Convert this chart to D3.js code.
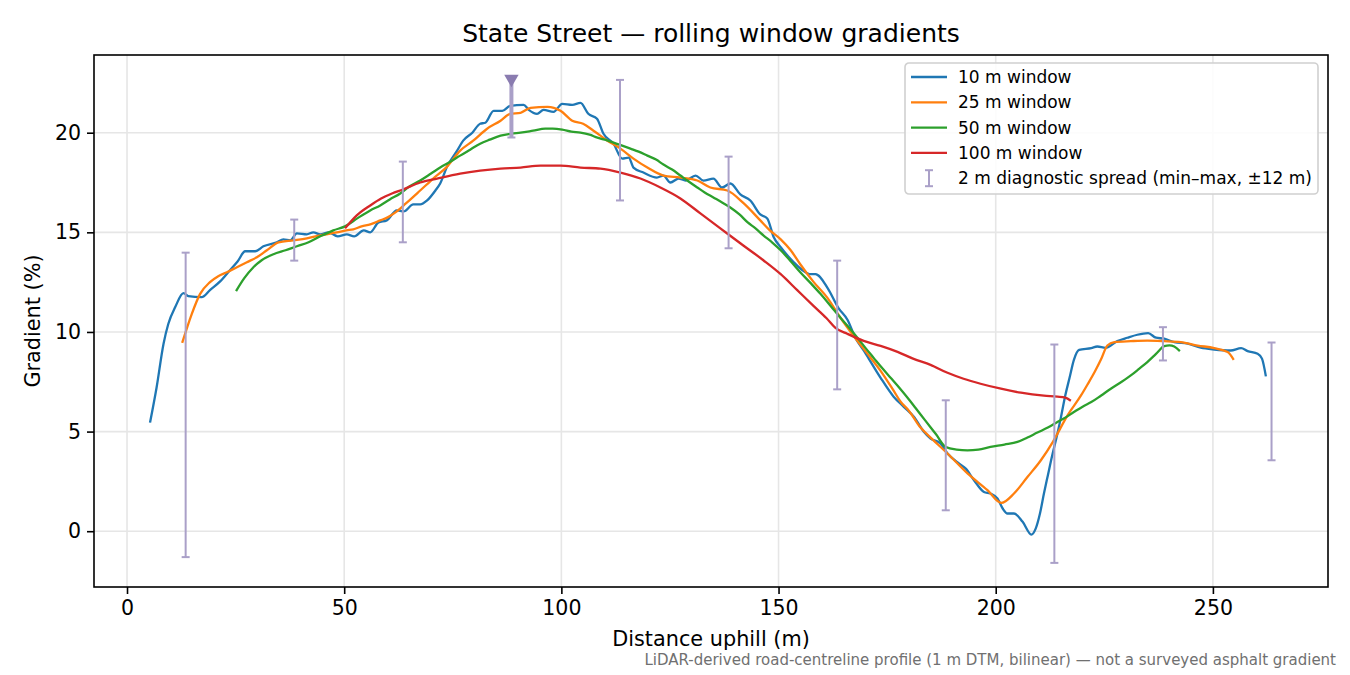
<!DOCTYPE html>
<html lang="en">
<head>
<meta charset="utf-8" />
<title>State Street — rolling window gradients</title>
<script src="https://d3js.org/d3.v7.min.js"></script>
<style>
  html, body { margin: 0; padding: 0; background: #fff; }
  svg { display: block; font-family: "DejaVu Sans", sans-serif; }
</style>
</head>
<body>
<div id="chart"></div>
<script>
// ---- data ----
const w10X = [5.3,6.8,8.4,9.5,11.1,13,14.1,17.2,19.1,21.5,23.7,25.5,27.2,29.5,31.4,34.5,36,37.6,39.1,41.4,42.9,44.5,46.4,48.5,50.6,52.3,54.5,56,57.9,59.8,62.1,63.7,65.9,67.5,69.1,71,72.1,73.7,76,77.4,79.5,81.3,82.5,84.4,86.4,88.2,91.3,92.5,94.4,95.9,98.2,100.2,102.5,104.4,106.2,108.2,109.7,112,114,115.5,116.6,118.9,122,123.5,125.1,127,128.6,130.9,132.7,135,137,138.9,141.2,143.5,145.8,147.4,148.9,150.5,153.5,155.5,157.4,158.5,161.3,163.8,165.9,167.7,169.6,171.5,173.5,176.5,178.9,181.2,183.5,185,187.3,188.9,191.6,193.1,195,197.3,198.8,200.4,201.6,202.7,204.2,206.2,208.2,209.2,210.2,211.1,212,213,214,215,216,217,218,219.2,222,223.4,225.3,228,230.3,232.6,235.1,236.9,238.8,241.1,244.2,247.2,250.3,254.1,256.5,258,260.3,261.3,262.2];
const w10Y = [5.45,7.2,9.4,10.4,11.25,11.95,11.8,11.75,12.1,12.55,13.1,13.55,14.05,14.05,14.3,14.5,14.65,14.6,14.95,14.9,15.0,14.9,15.0,14.8,14.9,14.8,15.1,15.0,15.5,15.6,16.1,16.05,16.4,16.4,16.6,17.1,17.45,18.3,19.1,19.6,20.0,20.45,20.5,21.1,21.1,21.35,21.4,21.15,20.95,21.15,21.05,21.45,21.4,21.5,20.95,20.7,19.95,19.45,18.7,18.75,18.25,18.0,17.75,17.85,17.5,17.7,17.6,17.85,17.6,17.7,17.25,17.45,16.9,16.6,15.9,15.7,14.75,14.25,13.5,13.1,12.9,12.9,12.2,11.2,10.6,9.7,9.07,8.4,7.7,6.75,6.23,5.73,4.98,4.65,4.4,3.9,3.39,3.14,2.56,1.97,1.89,1.64,1.14,0.89,0.89,0.47,-0.17,0.13,0.9,1.89,2.8,3.8,4.7,5.7,6.8,7.7,8.6,9.1,9.19,9.27,9.2,9.54,9.71,9.86,9.94,9.71,9.66,9.49,9.41,9.21,9.12,9.07,9.19,9.04,8.91,8.66,7.77];

const w25X = [12.7,14.9,16.8,19.1,21,23,25.3,27.6,29.9,32.2,34.9,38.3,41.4,44.5,48.3,50.5,52.1,54,56,58.3,60,61.8,64.2,67.5,70.5,73.7,76.7,79.7,82.9,86,88.2,90.6,92.9,96.8,99.8,102.5,105,107.4,110.6,113.6,116.6,119.8,123.5,127.4,131.3,134.3,138.2,142,145.8,148,150.5,152.8,155,158.1,161.3,164.3,167.3,170.5,173.5,176.5,178.1,180,182.7,185.5,188.9,193.5,198.1,201.3,204.2,207.3,210.4,213.2,216.5,219.6,221.1,222.8,224.2,225.7,227.3,231.1,234.9,238.8,242.6,246.5,250.3,253.4,254.8];
const w25Y = [9.45,10.9,11.9,12.5,12.8,13.0,13.25,13.5,13.75,14.1,14.5,14.6,14.7,14.85,15.0,15.1,15.15,15.3,15.4,15.6,15.75,16.0,16.45,17.1,17.7,18.3,19.1,19.6,20.2,20.6,20.95,21.0,21.25,21.3,21.1,20.6,20.45,20.1,19.6,19.2,18.7,18.25,17.85,17.75,17.6,17.25,17.1,16.45,15.6,15.1,14.65,14.1,13.4,12.5,11.7,10.7,9.8,8.9,8.05,7.05,6.5,6.05,5.2,4.6,3.9,2.9,2.06,1.42,1.89,2.72,3.56,4.5,5.8,6.8,7.35,8.0,8.6,9.32,9.49,9.54,9.57,9.54,9.49,9.32,9.19,8.99,8.6];

const w50X = [25.1,27,29.1,31,33.7,36.5,39.1,41.8,44.5,47.5,50.2,53,56,58.3,60.5,62.9,65,67.5,70,72.1,74.5,76.7,79,81.3,83.5,86,88.5,90.6,93.5,96.3,98,100.2,102.3,104.4,106.5,108.3,110,112,114,115.9,117.8,119.8,121.8,123.5,125.5,127.4,129.3,131.3,133,135,137,138.9,141,142.9,144.7,146.5,148.5,150.5,152.8,155,157.4,159.7,162,164.3,166.3,168.2,170,171.9,173.8,175.8,177.8,179.7,181.5,183.8,186.3,188.5,191,193.5,196,198.8,202,205,207.3,209.6,212,214.2,216,218,220,222,224.2,226.5,229,231.1,233,234.9,236.9,238.8,240,241.1,242.4];
const w50Y = [12.05,12.7,13.25,13.6,13.9,14.1,14.3,14.5,14.8,15.1,15.3,15.7,16.1,16.35,16.65,16.95,17.3,17.6,17.95,18.25,18.55,18.85,19.15,19.45,19.65,19.85,19.95,20.0,20.1,20.2,20.2,20.15,20.05,20.0,19.9,19.75,19.65,19.5,19.35,19.2,19.05,18.85,18.65,18.4,18.15,17.85,17.55,17.25,17.0,16.75,16.5,16.25,15.9,15.5,15.2,14.85,14.5,14.1,13.55,13.0,12.45,11.9,11.3,10.7,10.2,9.7,9.2,8.7,8.2,7.7,7.2,6.7,6.2,5.55,4.85,4.23,4.1,4.06,4.1,4.23,4.35,4.48,4.7,4.95,5.2,5.48,5.7,5.98,6.25,6.48,6.8,7.15,7.5,7.82,8.15,8.49,8.9,9.29,9.33,9.27,9.04];

const w100X = [50.2,52.9,56,58.5,61,63.5,67.5,71.4,76.7,81.3,86,90.6,95.2,99.8,104.4,109,113.6,118.2,122.8,127.4,132,136.6,141.2,146.5,150.5,154.3,158.1,161,163.1,165.9,169.6,173.5,177.4,181.1,185,188.9,192.6,196.5,201.2,205.8,211.1,214.2,216,217.3];
const w100Y = [15.2,15.85,16.35,16.7,16.95,17.15,17.5,17.7,17.95,18.1,18.2,18.25,18.35,18.35,18.25,18.2,18.0,17.7,17.25,16.7,15.95,15.2,14.45,13.6,12.9,12.1,11.3,10.7,10.2,9.9,9.55,9.3,9.0,8.65,8.35,7.95,7.65,7.4,7.15,6.95,6.8,6.75,6.7,6.55];

// 2 m diagnostic spread (min–max within ±12 m)
const spreadX  = [13.5, 38.5, 63.5, 88.5, 113.5, 138.5, 163.5, 188.5, 213.5, 238.5, 263.5];
const spreadLo = [-1.3, 13.58, 14.5, 19.76, 16.6, 14.2, 7.12, 1.05, -1.59, 8.57, 3.56];
const spreadHi = [13.98, 15.64, 18.55, 22.7, 22.65, 18.8, 13.58, 6.57, 9.37, 10.24, 9.47];
const spreadClipped = [false, false, false, true, false, false, false, false, false, false, false];

const seriesNames = ['10 m window', '25 m window', '50 m window', '100 m window'];
const seriesColors = ['#1f77b4', '#ff7f0e', '#2ca02c', '#d62728'];
const xTicks = [0, 50, 100, 150, 200, 250];
const yTicks = [0, 5, 10, 15, 20];

const series = [
  { name: seriesNames[0], color: seriesColors[0], pts: w10X.map((x, i) => [x, w10Y[i]]) },
  { name: seriesNames[1], color: seriesColors[1], pts: w25X.map((x, i) => [x, w25Y[i]]) },
  { name: seriesNames[2], color: seriesColors[2], pts: w50X.map((x, i) => [x, w50Y[i]]) },
  { name: seriesNames[3], color: seriesColors[3], pts: w100X.map((x, i) => [x, w100Y[i]]) }
];

// ---- layout ----
const width = 1350, height = 675;
const margin = { top: 55, right: 22, bottom: 88, left: 94 };
const innerW = width - margin.left - margin.right;
const innerH = height - margin.top - margin.bottom;
const spreadColor = '#aaa0c8';

const svg = d3.select('#chart').append('svg')
  .attr('width', width)
  .attr('height', height);

const x = d3.scaleLinear().domain([-7.6, 276.5]).range([0, innerW]);
const y = d3.scaleLinear().domain([-2.8, 23.9]).range([innerH, 0]);

const g = svg.append('g').attr('transform', `translate(${margin.left},${margin.top})`);

g.append('clipPath').attr('id', 'plot-clip')
  .append('rect').attr('width', innerW).attr('height', innerH);

// grid
g.append('g').selectAll('line').data(xTicks).enter().append('line')
  .attr('x1', d => x(d)).attr('x2', d => x(d))
  .attr('y1', 0).attr('y2', innerH)
  .attr('stroke', '#e6e6e6').attr('stroke-width', 1.6);
g.append('g').selectAll('line').data(yTicks).enter().append('line')
  .attr('x1', 0).attr('x2', innerW)
  .attr('y1', d => y(d)).attr('y2', d => y(d))
  .attr('stroke', '#e6e6e6').attr('stroke-width', 1.6);

const plot = g.append('g').attr('clip-path', 'url(#plot-clip)');

// series lines
const line = d3.line()
  .x(d => x(d[0]))
  .y(d => y(d[1]))
  .curve(d3.curveMonotoneX);

plot.selectAll('path.series').data(series).enter().append('path')
  .attr('class', 'series')
  .attr('d', d => line(d.pts))
  .attr('fill', 'none')
  .attr('stroke', d => d.color)
  .attr('stroke-width', 2.3)
  .attr('stroke-linejoin', 'round');

// spread bars
const cap = 4;
const bars = plot.selectAll('g.spread').data(spreadX).enter().append('g').attr('class', 'spread');
bars.append('line')
  .attr('x1', d => x(d)).attr('x2', d => x(d))
  .attr('y1', (d, i) => y(spreadLo[i]))
  .attr('y2', (d, i) => y(spreadHi[i]))
  .attr('stroke', spreadColor)
  .attr('stroke-width', (d, i) => spreadClipped[i] ? 4 : 2);
bars.append('line')
  .attr('x1', d => x(d) - cap).attr('x2', d => x(d) + cap)
  .attr('y1', (d, i) => y(spreadLo[i])).attr('y2', (d, i) => y(spreadLo[i]))
  .attr('stroke', spreadColor).attr('stroke-width', 2);
bars.filter((d, i) => !spreadClipped[i]).append('line')
  .attr('x1', d => x(d) - cap).attr('x2', d => x(d) + cap)
  .attr('y1', d => y(spreadHi[spreadX.indexOf(d)])).attr('y2', d => y(spreadHi[spreadX.indexOf(d)]))
  .attr('stroke', spreadColor).attr('stroke-width', 2);

// clipped maxima get a downward triangle
const tri = d3.symbol().type(d3.symbolTriangle).size(90);
plot.selectAll('path.clipmark')
  .data(spreadX.filter((d, i) => spreadClipped[i]))
  .enter().append('path')
  .attr('class', 'clipmark')
  .attr('d', tri)
  .attr('transform', d => `translate(${x(d)},${y(spreadHi[spreadX.indexOf(d)])}) rotate(180)`)
  .attr('fill', '#8a7cb0');

// axes
const xAxis = d3.axisBottom(x).tickValues(xTicks).tickSize(7).tickPadding(6).tickFormat(d3.format('d'));
const yAxis = d3.axisLeft(y).tickValues(yTicks).tickSize(7).tickPadding(6).tickFormat(d3.format('d'));

const gx = g.append('g').attr('transform', `translate(0,${innerH})`).call(xAxis);
const gy = g.append('g').call(yAxis);
[gx, gy].forEach(a => {
  a.select('.domain').remove();
  a.selectAll('.tick line').attr('stroke', '#000').attr('stroke-width', 1.6);
  a.selectAll('.tick text').attr('fill', '#000').style('font-size', '20.5px')
    .style('font-family', '"DejaVu Sans", sans-serif');
});

g.append('rect')
  .attr('width', innerW).attr('height', innerH)
  .attr('fill', 'none').attr('stroke', '#000').attr('stroke-width', 1.6);

// titles
svg.append('text')
  .attr('x', margin.left + innerW / 2).attr('y', 42)
  .attr('text-anchor', 'middle')
  .style('font-size', '25px')
  .text('State Street — rolling window gradients');

svg.append('text')
  .attr('x', margin.left + innerW / 2).attr('y', 646)
  .attr('text-anchor', 'middle')
  .style('font-size', '20.8px')
  .text('Distance uphill (m)');

svg.append('text')
  .attr('transform', `translate(40,${margin.top + innerH / 2}) rotate(-90)`)
  .attr('text-anchor', 'middle')
  .style('font-size', '20.8px')
  .text('Gradient (%)');

svg.append('text')
  .attr('x', 1336).attr('y', 665)
  .attr('text-anchor', 'end')
  .attr('fill', '#707070')
  .style('font-size', '15px')
  .text('LiDAR-derived road-centreline profile (1 m DTM, bilinear) — not a surveyed asphalt gradient');

// legend
const legend = svg.append('g').attr('transform', 'translate(905,63)');
legend.append('rect')
  .attr('width', 413).attr('height', 131)
  .attr('rx', 4)
  .attr('fill', 'rgba(255,255,255,0.85)')
  .attr('stroke', '#d0d0d0').attr('stroke-width', 1.6);

const rows = legend.selectAll('g.row').data(series).enter().append('g')
  .attr('class', 'row')
  .attr('transform', (d, i) => `translate(0,${14 + i * 25.3})`);
rows.append('line')
  .attr('x1', 6).attr('x2', 42)
  .attr('stroke', d => d.color).attr('stroke-width', 2.3);
rows.append('text')
  .attr('x', 53).attr('dy', '0.35em')
  .style('font-size', '17px')
  .text(d => d.name);

const errRow = legend.append('g').attr('transform', `translate(0,${14 + 4 * 25.3})`);
errRow.append('line').attr('x1', 24).attr('x2', 24).attr('y1', -8).attr('y2', 8)
  .attr('stroke', spreadColor).attr('stroke-width', 2);
[-8, 8].forEach(v => errRow.append('line')
  .attr('x1', 20).attr('x2', 28).attr('y1', v).attr('y2', v)
  .attr('stroke', spreadColor).attr('stroke-width', 2));
errRow.append('text')
  .attr('x', 53).attr('dy', '0.35em')
  .style('font-size', '17px')
  .text('2 m diagnostic spread (min–max, ±12 m)');
</script>
</body>
</html>
